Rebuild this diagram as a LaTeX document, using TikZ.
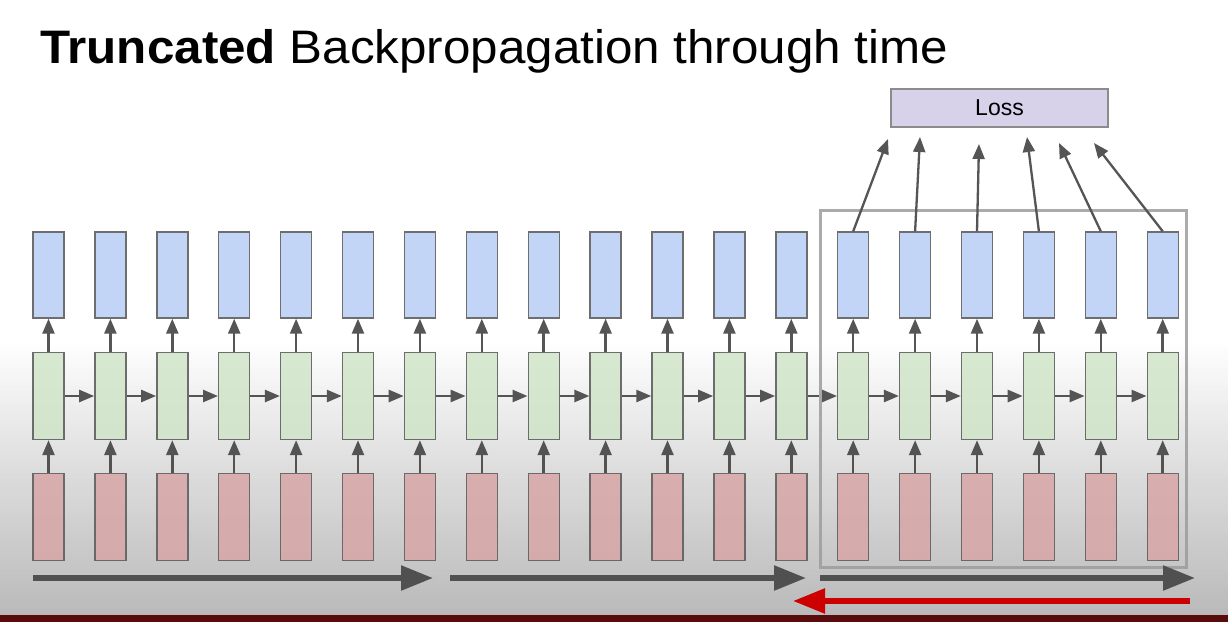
\documentclass[tikz,border=0pt]{standalone}
\usepackage{fontspec}
\setmainfont{Liberation Sans}
\usetikzlibrary{arrows.meta,fadings}

\definecolor{outblue}{HTML}{C2D5F6}
\definecolor{hidgreen}{HTML}{D7E9D1}
\definecolor{inred}{HTML}{DFB3B4}
\definecolor{losspurple}{HTML}{D8D1EA}
\definecolor{boxgray}{HTML}{6E6E6E}
\definecolor{arrowgray}{HTML}{555555}
\definecolor{framegray}{HTML}{ABABAB}
\definecolor{backred}{HTML}{CC0000}
\definecolor{barred}{HTML}{5A0C0C}
\definecolor{screengray}{HTML}{C6C6C6}

\tikzfading[name=shadedown, top color=transparent!100, bottom color=transparent!0]

\begin{document}
\begin{tikzpicture}[x=1pt, y=-1pt,
    cellbox/.style={draw=boxgray, line width=1.4pt, minimum width=31pt, minimum height=87pt, inner sep=0pt},
    outbox/.style={cellbox, fill=outblue, minimum height=86pt},
    hidbox/.style={cellbox, fill=hidgreen},
    inbox/.style={cellbox, fill=inred},
    smallarrow/.style={draw=arrowgray, line width=2.5pt, -{Triangle[length=15pt,width=12pt]}},
    lossarrow/.style={draw=arrowgray, line width=2.3pt, -{Triangle[length=15pt,width=12pt]}},
    bigarrow/.style={draw=arrowgray, line width=5.5pt, -{Triangle[length=32pt,width=24pt]}}]

    \useasboundingbox (0,0) rectangle (1228,622);
    \fill[white] (0,0) rectangle (1228,340);
    \shade[top color=white, bottom color=screengray] (0,340) rectangle (1228,615);

    % title
    \node [anchor=base west, inner sep=0pt, font=\fontsize{47}{56}\selectfont] (title) at (40,63.5)
        {\scalebox{1.05}[1]{\textbf{Truncated} Backpropagation through time}};

    % loss
    \node [draw=boxgray!80, line width=1.2pt, fill=losspurple, minimum width=217pt, minimum height=38pt,
        inner sep=0pt, font=\fontsize{23}{28}\selectfont] (loss) at (999.5,108) {Loss};

    % unrolled network
    \foreach \i in {1,...,19} {
        \pgfmathsetmacro\cx{48.5+(\i-1)*61.9}
        \node [outbox] (h\i) at (\cx,275) {};
        \node [hidbox] (g\i) at (\cx,396) {};
        \node [inbox] (x\i) at (\cx,517) {};
    }
    \foreach \i in {1,...,19} {
        \draw [smallarrow] (x\i) -- (g\i);
        \draw [smallarrow] (g\i) -- (h\i);
    }
    \foreach \i [evaluate=\i as \j using int(\i+1)] in {1,...,18}
        \draw [smallarrow] (g\i) -- (g\j);

    % truncated window
    \draw [framegray, line width=3pt] (820,210) rectangle (1186,567);

    \coordinate (t1) at (888,139);
    \coordinate (t2) at (920,137);
    \coordinate (t3) at (979,144);
    \coordinate (t4) at (1027,137);
    \coordinate (t5) at (1059,143);
    \coordinate (t6) at (1094,143);
    \draw [lossarrow] (h14.north) -- (t1);
    \draw [lossarrow] (h15.north) -- (t2);
    \draw [lossarrow] (h16.north) -- (t3);
    \draw [lossarrow] (h17.north) -- (t4);
    \draw [lossarrow] (h18.north) -- (t5);
    \draw [lossarrow] (h19.north) -- (t6);

    % forward passes
    \coordinate (f1a) at (33,578);
    \coordinate (f1b) at (433,578);
    \coordinate (f2a) at (450,578);
    \coordinate (f2b) at (806,578);
    \coordinate (f3a) at (820,578);
    \coordinate (f3b) at (1195,578);
    \draw [bigarrow] (f1a) -- (f1b);
    \draw [bigarrow] (f2a) -- (f2b);
    \draw [bigarrow] (f3a) -- (f3b);

    % light screen shading
    \fill [black, opacity=0.06, path fading=shadedown] (0,340) rectangle (1228,615);

    % backward pass
    \coordinate (b1a) at (1190,601);
    \coordinate (b1b) at (793,601);
    \draw [bigarrow, draw=backred] (b1a) -- (b1b);

    \fill [barred] (0,615) rectangle (1228,622);
\end{tikzpicture}
\end{document}
